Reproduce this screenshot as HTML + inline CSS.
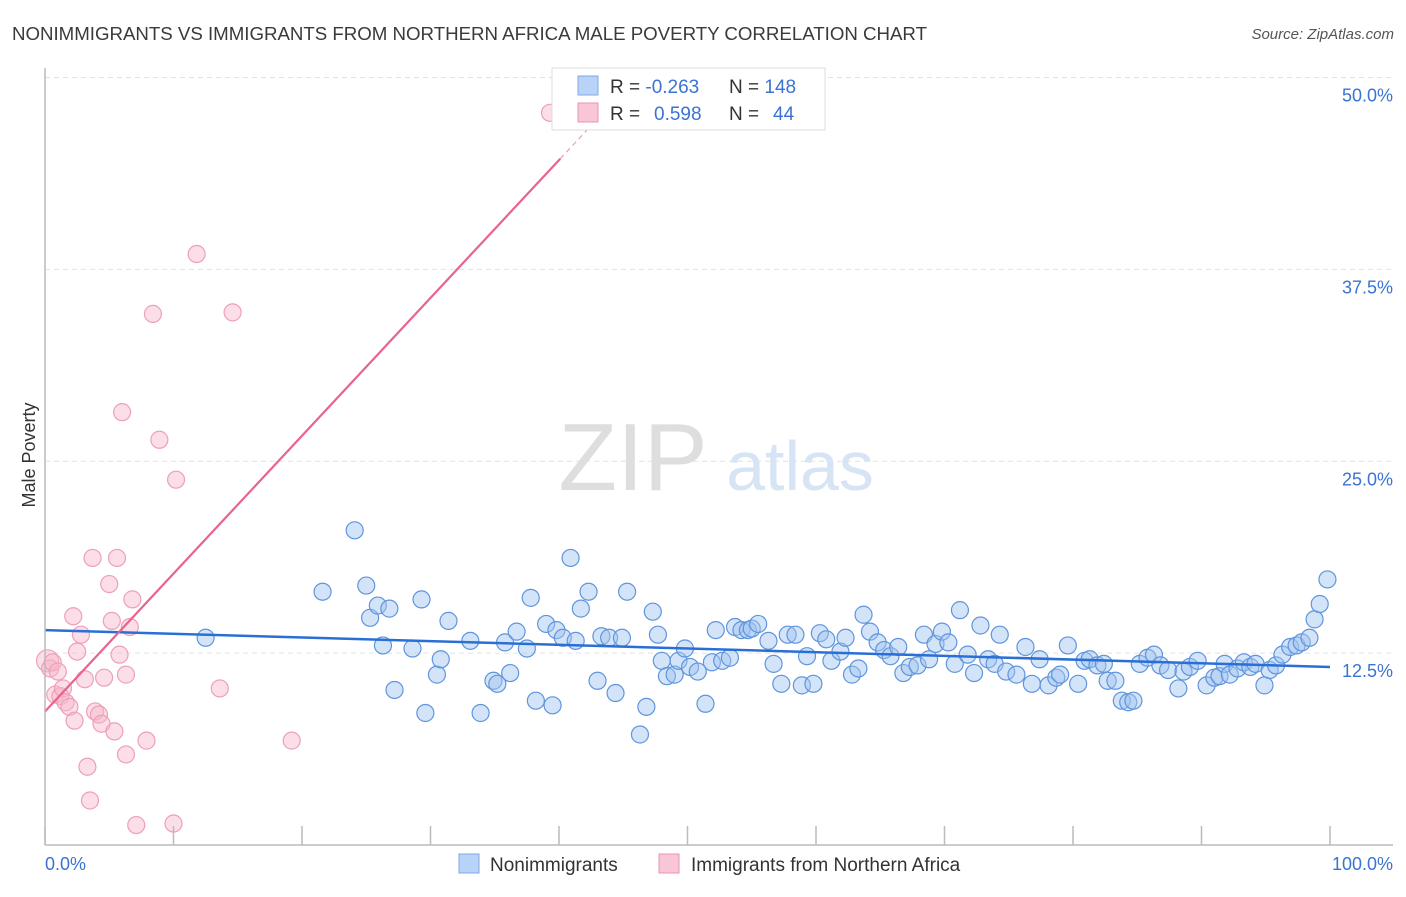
<!DOCTYPE html>
<html><head><meta charset="utf-8"><style>
body{margin:0;background:#fff;font-family:"Liberation Sans",sans-serif;}
svg text{font-family:"Liberation Sans",sans-serif;}
</style></head><body>
<svg width="1406" height="892">
<text x="12" y="40" font-size="18.7" fill="#3a3a3a" textLength="915">NONIMMIGRANTS VS IMMIGRANTS FROM NORTHERN AFRICA MALE POVERTY CORRELATION CHART</text>
<text x="1394" y="39" font-size="15" fill="#555" text-anchor="end" font-style="italic">Source: ZipAtlas.com</text>
<g id="grid"></g>
<text x="633" y="490" font-size="96" fill="#dedede" font-family="Liberation Serif" text-anchor="middle">ZIP</text>
<text x="800" y="490" font-size="70" fill="#d6e4f5" text-anchor="middle">atlas</text>
<g id="pts"></g>
<g id="lines"></g>
<line x1="45" y1="68" x2="45" y2="845" stroke="#bbb" stroke-width="1.5"/>
<line x1="45" y1="845" x2="1393" y2="845" stroke="#bbb" stroke-width="1.5"/>
<g id="axes"></g>
<text x="35" y="455" font-size="18" fill="#333" text-anchor="middle" transform="rotate(-90 35 455)">Male Poverty</text>
<text x="45" y="870" font-size="18" fill="#3b73d1">0.0%</text>
<text x="1393" y="870" font-size="18" fill="#3b73d1" text-anchor="end">100.0%</text>
<g>
<rect x="552" y="68" width="273" height="62" fill="#fff" stroke="#ddd"/>
<rect x="578" y="76" width="20" height="19" fill="#b8d3f7" stroke="#7ea8e6"/>
<rect x="578" y="103" width="20" height="19" fill="#f9c6d5" stroke="#e895b0"/>
<text x="610" y="93" font-size="19" fill="#333">R = <tspan fill="#3b73d1">-0.263</tspan><tspan x="729">N = </tspan><tspan fill="#3b73d1">148</tspan></text>
<text x="610" y="120" font-size="19" fill="#333">R = <tspan x="654" fill="#3b73d1">0.598</tspan><tspan x="729">N = </tspan><tspan x="773" fill="#3b73d1">44</tspan></text>
</g>
<g>
<rect x="459" y="854" width="20" height="19" fill="#b8d3f7" stroke="#7ea8e6"/>
<text x="490" y="871" font-size="19" fill="#333">Nonimmigrants</text>
<rect x="659" y="854" width="20" height="19" fill="#f9c6d5" stroke="#e895b0"/>
<text x="691" y="871" font-size="19" fill="#333">Immigrants from Northern Africa</text>
</g>
</svg>
<script>
const yTicks=[12.5,25.0,37.5,50.0];
const xTicks=[0,10,20,30,40,50,60,70,80,90,100];
const blueX=[12.5,21.6,24.1,25.0,25.3,25.9,26.3,26.8,27.2,28.6,29.3,29.6,30.5,30.8,31.4,33.1,33.9,34.9,35.2,35.8,36.2,36.7,37.5,37.8,38.2,39.0,39.5,39.8,40.3,40.9,41.3,41.7,42.3,43.0,43.3,43.9,44.4,44.9,45.3,46.3,46.8,47.3,47.7,48.0,48.4,49.0,49.3,49.8,50.2,50.8,51.4,51.9,52.2,52.7,53.3,53.7,54.2,54.7,55.0,55.5,56.3,56.7,57.3,57.8,58.4,58.9,59.3,59.8,60.3,60.8,61.2,61.9,62.3,62.8,63.3,63.7,64.2,64.8,65.3,65.8,66.4,66.8,67.3,67.9,68.4,68.8,69.3,69.8,70.3,70.8,71.2,71.8,72.3,72.8,73.4,73.9,74.3,74.8,75.6,76.3,76.8,77.4,78.1,78.7,79.0,79.6,80.4,80.9,81.3,81.9,82.4,82.7,83.3,83.8,84.3,84.7,85.2,85.8,86.3,86.8,87.4,88.2,88.6,89.1,89.7,90.4,91.0,91.4,91.8,92.2,92.8,93.3,93.8,94.2,94.9,95.3,95.8,96.3,96.9,97.4,97.8,98.4,98.8,99.2,99.8];
const blueY=[13.5,16.5,20.5,16.9,14.8,15.6,13.0,15.4,10.1,12.8,16.0,8.6,11.1,12.1,14.6,13.3,8.6,10.7,10.5,13.2,11.2,13.9,12.8,16.1,9.4,14.4,9.1,14.0,13.5,18.7,13.3,15.4,16.5,10.7,13.6,13.5,9.9,13.5,16.5,7.2,9.0,15.2,13.7,12.0,11.0,11.1,12.0,12.8,11.6,11.3,9.2,11.9,14.0,12.0,12.2,14.2,14.0,14.0,14.1,14.4,13.3,11.8,10.5,13.7,13.7,10.4,12.3,10.5,13.8,13.4,12.0,12.6,13.5,11.1,11.5,15.0,13.9,13.2,12.7,12.3,12.9,11.2,11.6,11.7,13.7,12.1,13.1,13.9,13.2,11.8,15.3,12.4,11.2,14.3,12.1,11.8,13.7,11.3,11.1,12.9,10.5,12.1,10.4,10.9,11.1,13.0,10.5,12.0,12.1,11.7,11.8,10.7,10.7,9.4,9.3,9.4,11.8,12.2,12.4,11.7,11.4,10.2,11.3,11.6,12.0,10.4,10.9,11.0,11.8,11.1,11.5,11.9,11.6,11.8,10.4,11.4,11.7,12.4,12.9,13.0,13.2,13.5,14.7,15.7,17.3];
const pinkX=[0.2,0.4,0.6,1.0,0.8,1.2,1.4,1.6,1.9,2.2,2.3,2.5,2.8,3.1,3.3,3.5,3.7,3.9,4.2,4.4,4.6,5.0,5.2,5.4,5.6,5.8,6.0,6.3,6.3,6.6,6.8,7.1,7.9,8.4,8.9,10.0,10.2,11.8,13.6,14.6,19.2,39.3];
const pinkY=[12.0,11.5,11.9,11.3,9.8,9.7,10.2,9.3,9.0,14.9,8.1,12.6,13.7,10.8,5.1,2.9,18.7,8.7,8.5,7.9,10.9,17.0,14.6,7.4,18.7,12.4,28.2,11.1,5.9,14.2,16.0,1.3,6.8,34.6,26.4,1.4,23.8,38.5,10.2,34.7,6.8,47.7];
const blueLine=[14.0,11.6];
const pinkLine=[8.7,0.898];
const NS='http://www.w3.org/2000/svg';
const sx=v=>45+v*12.85, sy=v=>845-v*15.35;
function mk(t,a,p){const e=document.createElementNS(NS,t);for(const k in a)e.setAttribute(k,a[k]);p.appendChild(e);return e;}
const grid=document.getElementById('grid'),axes=document.getElementById('axes'),pts=document.getElementById('pts'),lines=document.getElementById('lines');
yTicks.forEach(v=>{
 const l=mk('line',{x1:45,x2:1393,y1:sy(v),y2:sy(v),stroke:'#e2e2e2','stroke-dasharray':'5,4'},grid);
 
 
 const t=mk('text',{x:1393,y:sy(v)+24,'font-size':18,fill:'#3b73d1','text-anchor':'end'},axes);
 t.textContent=v.toFixed(1)+'%';
 
 
});
xTicks.forEach(v=>{
 const l=mk('line',{x1:sx(v),x2:sx(v),y1:826,y2:845,stroke:'#bbb','stroke-width':1.5},axes);
 
 
});
pinkX.forEach((x,i)=>{
 const c=mk('circle',{cx:sx(x),cy:sy(pinkY[i]),r:i==0?11:8.5,fill:'rgba(247,182,202,0.45)',stroke:'#eda0b8','stroke-width':1.2},pts);
 
 
});
blueX.forEach((x,i)=>{
 const c=mk('circle',{cx:sx(x),cy:sy(blueY[i]),r:8.5,fill:'rgba(160,196,240,0.45)',stroke:'#5f95dd','stroke-width':1.2},pts);
 
 
});
const bl=mk('line',{x1:sx(0),y1:sy(blueLine[0]),x2:sx(100),y2:sy(blueLine[1]),stroke:'#2a6fd6','stroke-width':2.5},lines);


const pl=mk('line',{x1:sx(0),y1:sy(pinkLine[0]),x2:sx(40.1),y2:sy(pinkLine[0]+pinkLine[1]*40.1),stroke:'#e8638f','stroke-width':2.2},lines);


const pd=mk('line',{x1:sx(40.1),y1:sy(pinkLine[0]+pinkLine[1]*40.1),x2:sx(42.5),y2:sy(pinkLine[0]+pinkLine[1]*42.5),stroke:'#e8a0b8','stroke-width':1.2,'stroke-dasharray':'5,4'},lines);


</script>
</body></html>
